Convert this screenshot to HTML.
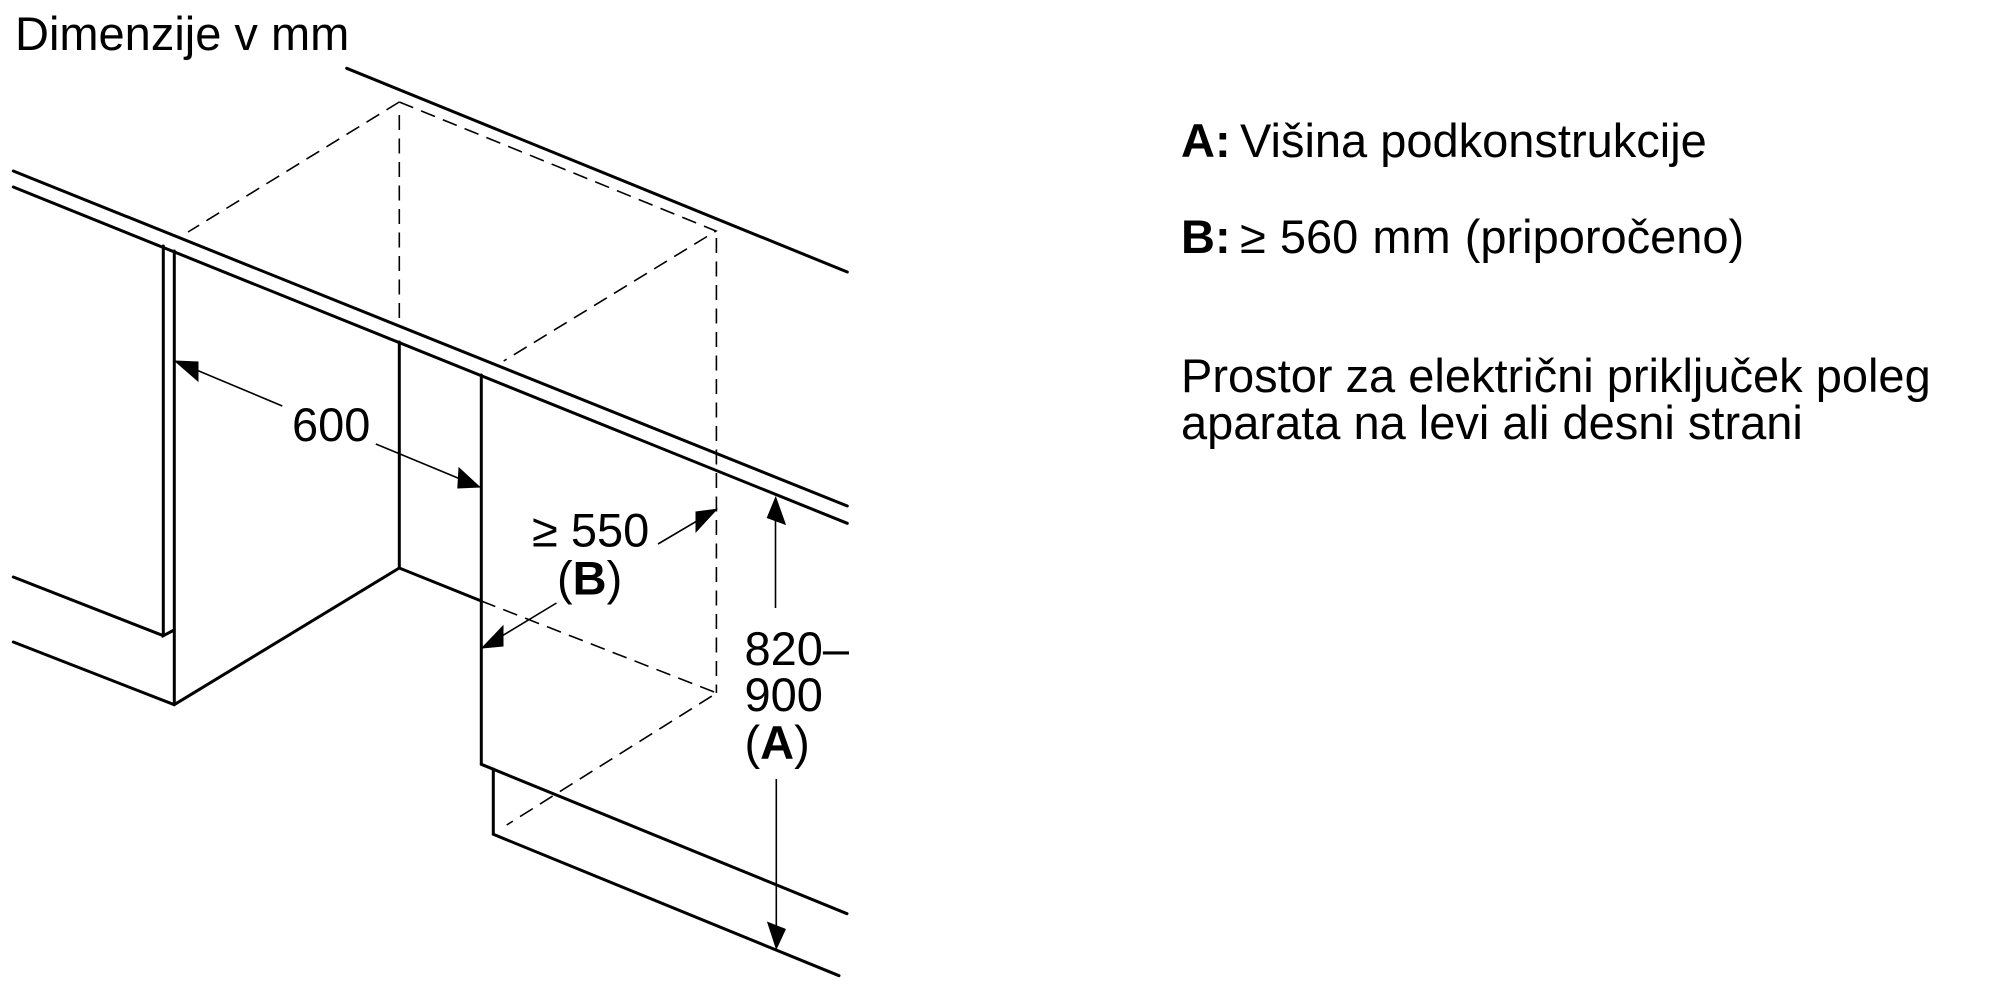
<!DOCTYPE html>
<html><head><meta charset="utf-8"><style>
html,body{margin:0;padding:0;background:#fff;width:2000px;height:1000px;overflow:hidden}
svg{display:block}
text{font-family:"Liberation Sans",sans-serif;font-size:47px;fill:#000}
.b{font-weight:bold}
.s{stroke:#000;stroke-width:3;fill:none;stroke-linecap:round;stroke-linejoin:miter}
.d{stroke:#000;stroke-width:1.6;fill:none;stroke-dasharray:15 8.5}
.t{stroke:#000;stroke-width:1.6;fill:none}
.h{fill:#000;stroke:#000;stroke-width:1;stroke-linejoin:miter}
</style></head><body>
<svg width="2000" height="1000" viewBox="0 0 2000 1000" xmlns="http://www.w3.org/2000/svg">
<g class="d">
<path d="M399.3 102L188 232"/>
<path d="M399.3 102L716 231L503.7 361"/>
<path d="M399.3 115V325"/>
<path d="M716.4 238V693"/>
<path d="M481.3 601L716.7 693L506.7 825"/>
</g>
<g class="s">
<path d="M346.7 68.3L847.3 272"/>
<path d="M13.3 171L847.3 506"/>
<path d="M13.3 187L847.3 523.3"/>
<path d="M163.3 246V635.7L174.2 630"/>
<path d="M174.3 251V704.7"/>
<path d="M399.3 342V568"/>
<path d="M481.3 375V764.3"/>
<path d="M13.3 577L163.3 635.7"/>
<path d="M13.3 642L174.2 704.7L399.3 568L481.3 601"/>
<path d="M481.3 764.3L847 913.7"/>
<path d="M493.3 769V834.3L839 975.7"/>
</g>
<g class="t">
<path d="M175 361L282.3 406"/>
<path d="M375.8 444L479.6 487"/>
<path d="M658 544L716.7 509.3"/>
<path d="M556.5 603L482 648"/>
<path d="M775.5 500V608"/>
<path d="M776.3 779V945"/>
</g>
<g class="h">
<polygon points="175,361 198,362 198,381"/>
<polygon points="479.6,487 459,468 457.8,488"/>
<polygon points="716.7,509.3 696,512 696,531.7"/>
<polygon points="482,648 503,626 503,646"/>
<polygon points="775.7,497.3 767.3,517.7 785.3,524.3"/>
<polygon points="776.3,948.7 767.7,922.3 785.3,929.3"/>
</g>
<text x="15" y="50">Dimenzije v mm</text>
<text x="292" y="441">600</text>
<text x="532" y="546.5">≥ 550</text>
<text x="557" y="594.5">(<tspan class="b">B</tspan>)</text>
<text x="744.5" y="665">820–</text>
<text x="744.5" y="711">900</text>
<text x="744.5" y="759">(<tspan class="b">A</tspan>)</text>
<text x="1181" y="157" class="b">A:</text>
<text x="1240" y="157">Višina podkonstrukcije</text>
<text x="1181" y="253" class="b">B:</text>
<text x="1240" y="253" word-spacing="1">≥ 560 mm (priporočeno)</text>
<text x="1181" y="392">Prostor za električni priključek poleg</text>
<text x="1181" y="439">aparata na levi ali desni strani</text>
</svg>
</body></html>
